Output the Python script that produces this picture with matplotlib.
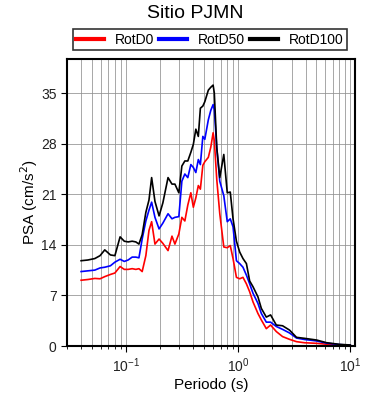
import matplotlib
matplotlib.use("Agg")
import matplotlib.pyplot as plt
from matplotlib.ticker import LogLocator, FixedLocator, NullFormatter

plt.rcParams['font.family'] = ['Liberation Sans', 'DejaVu Sans']

# periods (s)
periods = [0.040, 0.046, 0.053, 0.059, 0.065, 0.073, 0.080, 0.089, 0.097, 0.105,
           0.114, 0.123, 0.131, 0.140, 0.151, 0.161, 0.170, 0.182, 0.198, 0.214,
           0.238, 0.258, 0.274, 0.297, 0.316, 0.336, 0.357, 0.380, 0.400, 0.421,
           0.443, 0.462, 0.486, 0.506, 0.544, 0.572, 0.600, 0.615, 0.647, 0.688,
           0.747, 0.802, 0.853, 0.903, 0.968, 1.035, 1.107, 1.188, 1.270, 1.360,
           1.505, 1.614, 1.787, 1.951, 2.193, 2.495, 2.878, 3.321, 3.911, 5.00,
           6.13, 8.00, 10.0]

rotd100 = [11.8, 11.9, 12.1, 12.5, 13.3, 12.6, 12.5, 15.1, 14.5, 14.4,
           14.5, 14.4, 14.1, 15.4, 18.5, 20.2, 23.3, 20.0, 18.0, 19.8,
           23.3, 22.4, 22.4, 21.2, 24.9, 25.6, 25.6, 26.8, 27.9, 30.0,
           29.0, 32.9, 33.2, 33.8, 35.4, 35.8, 36.1, 35.0, 27.4, 23.3,
           26.5, 21.2, 21.3, 17.6, 14.5, 13.0, 12.1, 11.4, 9.0, 8.2,
           6.8, 5.2, 4.0, 4.3, 2.9, 2.8, 2.2, 1.2, 1.06, 0.83,
           0.46, 0.23, 0.14]

rotd50 = [10.3, 10.4, 10.5, 10.8, 10.9, 11.1, 11.6, 12.0, 11.7, 11.9,
          12.3, 12.3, 12.2, 14.8, 17.3, 18.8, 19.9, 17.8, 16.2, 17.0,
          18.3, 17.6, 17.8, 17.9, 22.8, 23.8, 23.3, 25.1, 24.7, 24.0,
          25.8, 25.1, 29.0, 28.6, 31.3, 32.6, 33.4, 32.7, 27.4, 22.8,
          20.8, 17.2, 17.6, 16.5, 11.8, 11.4, 10.9, 9.8, 8.6, 7.3,
          5.9, 4.5, 3.3, 3.3, 2.7, 2.3, 1.8, 1.1, 0.9, 0.7,
          0.4, 0.2, 0.1]

rotd0 = [9.1, 9.2, 9.35, 9.3, 9.6, 9.9, 10.1, 11.0, 10.6, 10.6,
         10.7, 10.6, 10.7, 10.3, 12.5, 16.0, 17.2, 14.1, 14.8, 14.2,
         13.2, 15.2, 14.1, 15.5, 17.8, 17.3, 19.5, 21.2, 19.2, 20.5,
         22.2, 21.7, 25.0, 25.5, 26.1, 27.5, 29.5, 28.4, 23.0, 18.3,
         13.7, 13.6, 13.9, 12.1, 9.5, 9.3, 9.5, 8.6, 7.5, 6.1,
         4.5, 3.6, 2.4, 2.9, 2.0, 1.3, 0.92, 0.6, 0.45, 0.37,
         0.25, 0.12, 0.05]

yticks = [0, 7, 14, 21, 28, 35]

fig = plt.figure(figsize=(3.9, 4.0), dpi=100)
ax = fig.add_axes([0.172, 0.135, 0.738, 0.7175])

ax.plot(periods, rotd0, color='red', lw=1.2, label='RotD0')
ax.plot(periods, rotd50, color='blue', lw=1.2, label='RotD50')
ax.plot(periods, rotd100, color='black', lw=1.2, label='RotD100')

ax.set_xscale('log')
ax.set_xlim(0.03, 11)
ax.set_ylim(0, 1.1 * max(rotd100))
ax.xaxis.set_major_locator(LogLocator(base=10, numticks=10))
ax.xaxis.set_minor_locator(LogLocator(base=10, subs=range(2, 10), numticks=20))
ax.xaxis.set_minor_formatter(NullFormatter())
ax.yaxis.set_major_locator(FixedLocator(yticks))

ax.grid(True, which='both', axis='x', color='#909090', lw=0.55)
ax.grid(True, which='major', axis='y', color='#909090', lw=0.55)
ax.set_axisbelow(True)

for s in ax.spines.values():
    s.set_linewidth(1.5)
ax.tick_params(which='major', direction='out', length=4, width=0.8, labelsize=10,
               labelcolor='#222222')
ax.tick_params(which='minor', direction='out', length=2, width=0.6)

ax.set_xlabel('Periodo (s)', fontsize=11, labelpad=2)
ax.set_ylabel('PSA (cm/s$^2$)', fontsize=11, labelpad=1)

fig.text(0.5, 0.967, 'Sitio PJMN', ha='center', va='center', fontsize=14)
leg = fig.legend(loc='lower left', bbox_to_anchor=(0.187, 0.874, 0.703, 0.054),
                 mode='expand', ncol=3, fontsize=10, frameon=True, fancybox=False,
                 edgecolor='black', handlelength=2.0, borderaxespad=0,
                 borderpad=0.25, handletextpad=0.8)
leg.get_frame().set_linewidth(1.2)
for h in leg.legend_handles:
    h.set_linewidth(3)

fig.savefig('out.png', dpi=100)
